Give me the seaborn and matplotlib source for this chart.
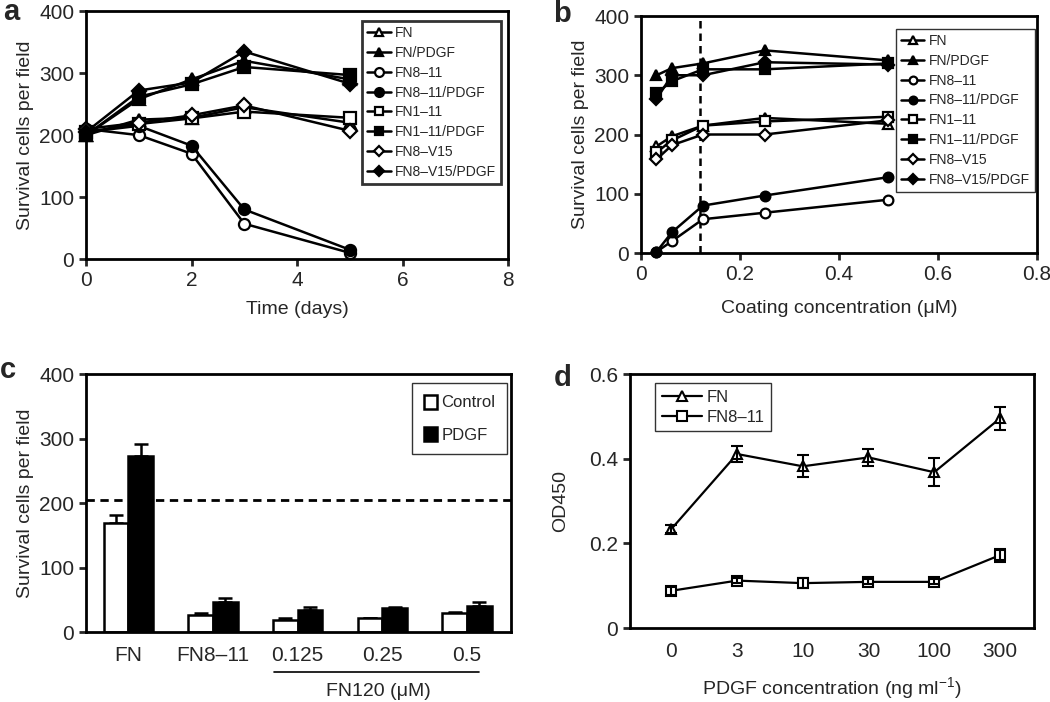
import numpy as np
import pandas as pd
import seaborn as sns
import matplotlib.pyplot as plt
import matplotlib.transforms as mtransforms

# ---- data: panel a (time course) ----
days = [0, 1, 2, 3, 5]
a_FN = [200, 225, 228, 245, 220]
a_FN_PDGF = [200, 258, 290, 320, 290]
a_FN8_11 = [210, 200, 170, 57, 10]
a_FN8_11_PDGF = [205, 215, 183, 80, 15]
a_FN1_11 = [205, 218, 227, 238, 228]
a_FN1_11_PDGF = [200, 262, 282, 310, 297]
a_FN8_V15 = [210, 220, 232, 248, 207]
a_FN8_V15_PDGF = [205, 272, 285, 335, 283]

# ---- data: panel b (coating concentration) ----
conc = [0.03125, 0.0625, 0.125, 0.25, 0.5]
b_FN = [180, 197, 215, 228, 218]
b_FN_PDGF = [300, 312, 320, 342, 325]
b_FN8_11 = [2, 20, 57, 68, 90]
b_FN8_11_PDGF = [2, 35, 80, 97, 128]
b_FN1_11 = [170, 190, 215, 222, 230]
b_FN1_11_PDGF = [270, 290, 310, 310, 320]
b_FN8_V15 = [158, 182, 200, 200, 224]
b_FN8_V15_PDGF = [260, 300, 300, 322, 318]

series_names = ['FN', 'FN/PDGF', 'FN8–11', 'FN8–11/PDGF',
                'FN1–11', 'FN1–11/PDGF', 'FN8–V15', 'FN8–V15/PDGF']
markers = ['^', '^', 'o', 'o', 's', 's', 'D', 'D']
filled = [False, True, False, True, False, True, False, True]

# ---- data: panel c (bars) ----
c_groups = ['FN', 'FN8–11', '0.125', '0.25', '0.5']
c_control = [169, 26, 18, 21, 29]
c_control_err = [13, 3, 3, 1, 2]
c_pdgf = [273, 47, 34, 37, 41]
c_pdgf_err = [19, 5, 5, 2, 5]

# ---- data: panel d (OD450) ----
pdgf_conc = ['0', '3', '10', '30', '100', '300']
d_FN = [0.234, 0.411, 0.382, 0.403, 0.368, 0.495]
d_FN_err = [0.01, 0.02, 0.026, 0.02, 0.033, 0.028]
d_FN8_11 = [0.088, 0.112, 0.106, 0.109, 0.109, 0.172]
d_FN8_11_err = [0.009, 0.006, 0.012, 0.006, 0.006, 0.015]

sns.set_style('ticks')
plt.rcParams['font.family'] = ['Liberation Sans', 'DejaVu Sans']
plt.rcParams['mathtext.fontset'] = 'custom'
plt.rcParams['mathtext.rm'] = 'Liberation Sans'
plt.rcParams['mathtext.it'] = 'Liberation Sans:italic'
plt.rcParams['axes.linewidth'] = 2
plt.rcParams['xtick.major.width'] = 2
plt.rcParams['ytick.major.width'] = 2
plt.rcParams['xtick.major.size'] = 5
plt.rcParams['ytick.major.size'] = 5
plt.rcParams['xtick.labelsize'] = 15
plt.rcParams['ytick.labelsize'] = 15
plt.rcParams['axes.labelsize'] = 14
plt.rcParams['axes.edgecolor'] = 'black'

fig = plt.figure(figsize=(10.5, 7.02), dpi=100)
ax_a = fig.add_axes([0.0819, 0.631, 0.402, 0.353])
ax_b = fig.add_axes([0.6105, 0.6396, 0.377, 0.3376])
ax_c = fig.add_axes([0.0819, 0.0997, 0.4048, 0.3675])
ax_d = fig.add_axes([0.600, 0.1054, 0.3848, 0.3618])


def draw_lines(ax, x, data, ms):
    for name, vals, m, f in zip(series_names, data, markers, filled):
        size = ms - 1 if m == 'D' else ms
        sns.lineplot(x=x, y=vals, ax=ax, color='black', lw=1.8, marker=m,
                     markersize=size, markerfacecolor='black' if f else 'white',
                     markeredgecolor='black', markeredgewidth=1.6,
                     label=name, clip_on=False, zorder=3)


def line_legend(ax, anchor, frame_lw):
    leg = ax.legend(loc='upper left', bbox_to_anchor=anchor, borderaxespad=0,
                    fontsize=10, frameon=True, fancybox=False, edgecolor='black',
                    handlelength=1.7, labelspacing=0.42, handletextpad=0.3,
                    borderpad=0.35, markerscale=0.8)
    leg.get_frame().set_linewidth(frame_lw)


# panel a
draw_lines(ax_a, days, [a_FN, a_FN_PDGF, a_FN8_11, a_FN8_11_PDGF,
                        a_FN1_11, a_FN1_11_PDGF, a_FN8_V15, a_FN8_V15_PDGF], 8)
ax_a.set_xlim(0, 8)
ax_a.set_ylim(0, 400)
ax_a.set_xticks([0, 2, 4, 6, 8])
ax_a.set_yticks([0, 100, 200, 300, 400])
ax_a.set_xlabel('Time (days)', labelpad=8)
ax_a.set_ylabel('Survival cells per field')
line_legend(ax_a, (0.654, 0.96), 2)

# panel b
draw_lines(ax_b, conc, [b_FN, b_FN_PDGF, b_FN8_11, b_FN8_11_PDGF,
                        b_FN1_11, b_FN1_11_PDGF, b_FN8_V15, b_FN8_V15_PDGF], 7)
ax_b.axvline(0.12, color='black', ls='--', lw=1.8, dashes=(3, 2), zorder=1)
ax_b.set_xlim(0, 0.8)
ax_b.set_ylim(0, 400)
ax_b.set_xticks([0, 0.2, 0.4, 0.6, 0.8])
ax_b.set_xticklabels(['0', '0.2', '0.4', '0.6', '0.8'])
ax_b.set_yticks([0, 100, 200, 300, 400])
ax_b.set_xlabel('Coating concentration (μM)', labelpad=12)
ax_b.set_ylabel('Survival cells per field')
line_legend(ax_b, (0.644, 0.945), 1)

# panel c
df_c = pd.DataFrame({
    'group': c_groups * 2,
    'value': c_control + c_pdgf,
    'treat': ['Control'] * len(c_groups) + ['PDGF'] * len(c_groups),
})
sns.barplot(data=df_c, x='group', y='value', hue='treat', ax=ax_c,
            palette={'Control': 'white', 'PDGF': 'black'}, edgecolor='black',
            linewidth=1.8, width=0.58, errorbar=None, zorder=2)
for cont, errs in zip(ax_c.containers, [c_control_err, c_pdgf_err]):
    xs = [p.get_x() + p.get_width() / 2 for p in cont.patches]
    ys = [p.get_height() for p in cont.patches]
    ax_c.errorbar(xs, ys, yerr=[np.zeros(len(errs)), errs], fmt='none',
                  ecolor='black', elinewidth=1.8, capsize=5, capthick=1.8, zorder=1)
ax_c.axhline(205, color='black', ls='--', lw=2, dashes=(3, 2), zorder=3)
ax_c.set_xlim(-0.5, 4.52)
ax_c.set_ylim(0, 400)
ax_c.set_yticks([0, 100, 200, 300, 400])
ax_c.set_xlabel('')
ax_c.set_ylabel('Survival cells per field')
ax_c.tick_params(axis='x', length=0, pad=10)
trans = mtransforms.blended_transform_factory(ax_c.transData, ax_c.transAxes)
ax_c.plot([1.72, 4.14], [-0.155, -0.155], color='black', lw=1.2,
          transform=trans, clip_on=False)
ax_c.text(2.95, -0.23, 'FN120 (μM)', transform=trans, ha='center', va='center',
          fontsize=14)
leg = ax_c.legend(loc='upper left', bbox_to_anchor=(0.767, 0.965), borderaxespad=0,
                  fontsize=12, frameon=True, fancybox=False, edgecolor='black',
                  handlelength=0.8, handleheight=0.9, handletextpad=0.25,
                  labelspacing=1.0, borderpad=0.7, title=None)
leg.get_frame().set_linewidth(1)

# panel d
xpos = np.arange(len(pdgf_conc))
for vals, errs, m, name in [(d_FN, d_FN_err, '^', 'FN'),
                            (d_FN8_11, d_FN8_11_err, 's', 'FN8–11')]:
    sns.lineplot(x=xpos, y=vals, ax=ax_d, color='black', lw=1.6, marker=m,
                 markersize=6.5, markerfacecolor='white', markeredgecolor='black',
                 markeredgewidth=1.5, label=name, zorder=3)
    ax_d.errorbar(xpos, vals, yerr=errs, fmt='none', ecolor='black',
                  elinewidth=1.5, capsize=4, capthick=1.5, zorder=4)
ax_d.set_xlim(-0.63, 5.52)
ax_d.set_ylim(0, 0.6)
ax_d.set_xticks(xpos)
ax_d.set_xticklabels(pdgf_conc)
ax_d.set_yticks([0, 0.2, 0.4, 0.6])
ax_d.set_yticklabels(['0', '0.2', '0.4', '0.6'])
ax_d.tick_params(axis='x', length=0, pad=10)
ax_d.set_xlabel('PDGF concentration (ng ml$^{-1}$)', labelpad=10)
ax_d.set_ylabel('OD450', labelpad=14)
leg = ax_d.legend(loc='upper left', bbox_to_anchor=(0.062, 0.965), borderaxespad=0,
                  fontsize=12, frameon=True, fancybox=False, edgecolor='black',
                  handlelength=2.4, handletextpad=0.3, labelspacing=0.3,
                  borderpad=0.4)
leg.get_frame().set_linewidth(1)

for ax in [ax_a, ax_b, ax_c, ax_d]:
    for s in ax.spines.values():
        s.set_visible(True)
        s.set_linewidth(2)

# panel letters
fig.text(0.003, 0.983, 'a', fontsize=21, fontweight='bold', va='center')
fig.text(0.527, 0.98, 'b', fontsize=21, fontweight='bold', va='center')
fig.text(0.000, 0.473, 'c', fontsize=21, fontweight='bold', va='center')
fig.text(0.527, 0.462, 'd', fontsize=21, fontweight='bold', va='center')

fig.savefig('out.png', dpi=100, facecolor='white')
